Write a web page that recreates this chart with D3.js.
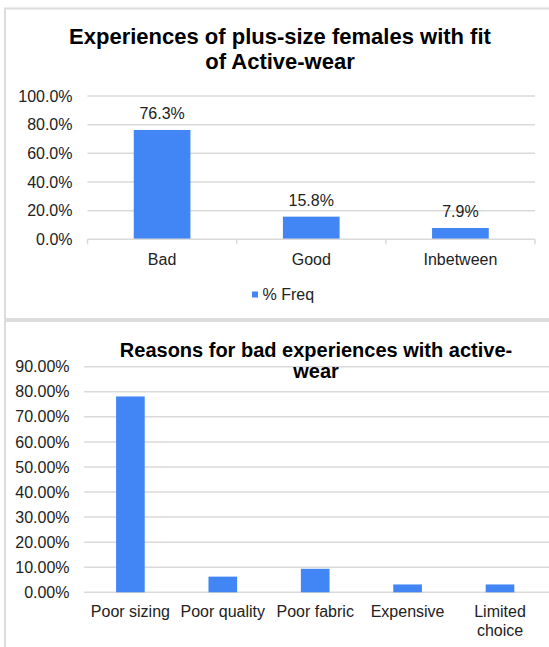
<!DOCTYPE html>
<html>
<head>
<meta charset="utf-8">
<script src="https://cdn.jsdelivr.net/npm/d3@7"></script>
<style>
  html, body { margin: 0; padding: 0; background: #fff; }
  svg { display: block; font-family: "Liberation Sans", Arial, Helvetica, sans-serif; }
</style>
</head>
<body>
<svg id="chart" width="549" height="647"></svg>
<script>
// Chart 1: fit experiences
const fitCategories = ["Bad", "Good", "Inbetween"];
const fitValues = [76.3, 15.8, 7.9];
const fitTicks = [0, 20, 40, 60, 80, 100];
const fitTitle = ["Experiences of plus-size females with fit", "of Active-wear"];
const fitLegend = "% Freq";

// Chart 2: reasons for bad experiences
const reasonCategories = ["Poor sizing", "Poor quality", "Poor fabric", "Expensive", "Limited choice"];
const reasonValues = [78.13, 6.25, 9.38, 3.13, 3.13];
const reasonTicks = [0, 10, 20, 30, 40, 50, 60, 70, 80, 90];
const reasonTitle = ["Reasons for bad experiences with active-", "wear"];

const BLUE = "#4285f4";
const GRID = "#dadada";
const TEXT = "#222";

const svg = d3.select("#chart");

// panel frames
const frame = svg.append("g").attr("fill", "none").attr("stroke", "#dcdcdc");
frame.append("path").attr("stroke-width", 2).attr("d", "M5,320V8.5H549");
frame.append("path").attr("stroke-width", 2).attr("d", "M5,647V321H549");
frame.append("line").attr("stroke-width", 2).attr("x1", 5).attr("x2", 549).attr("y1", 319).attr("y2", 319);

function wrap(sel, width) {
  sel.each(function () {
    const text = d3.select(this);
    const words = text.text().split(/\s+/);
    const y = text.attr("y"), dy = parseFloat(text.attr("dy")) || 0;
    text.text(null);
    let line = [];
    let lineNo = 0;
    let tspan = text.append("tspan").attr("x", 0).attr("y", y).attr("dy", dy + "em");
    for (const w of words) {
      line.push(w);
      tspan.text(line.join(" "));
      if (tspan.node().getComputedTextLength() > width && line.length > 1) {
        line.pop();
        tspan.text(line.join(" "));
        line = [w];
        lineNo++;
        tspan = text.append("tspan").attr("x", 0).attr("y", y)
          .attr("dy", (dy + lineNo * 1.19) + "em").text(w);
      }
    }
  });
}

// ---------- Chart 1 ----------
{
  const g = svg.append("g");
  const x = d3.scaleBand().domain(fitCategories).range([87.5, 535]);
  const y = d3.scaleLinear().domain([0, 100]).range([239.3, 96]);
  const barW = x.bandwidth() * 0.38;

  g.append("text")
    .attr("x", 280).attr("y", 44)
    .attr("text-anchor", "middle")
    .attr("font-size", 22).attr("font-weight", "bold").attr("fill", "#000")
    .selectAll("tspan").data(fitTitle).join("tspan")
    .attr("x", 280).attr("dy", (d, i) => i ? 25 : 0)
    .text(d => d);

  // gridlines
  g.append("g").selectAll("line").data(fitTicks.filter(t => t > 0)).join("line")
    .attr("x1", 87.5).attr("x2", 535)
    .attr("y1", d => y(d)).attr("y2", d => y(d))
    .attr("stroke", GRID).attr("stroke-width", 1.5);

  // y axis labels
  const ya = g.append("g").attr("transform", "translate(72.5,0)")
    .call(d3.axisLeft(y).tickValues(fitTicks).tickSize(0).tickPadding(0)
      .tickFormat(d => d.toFixed(1) + "%"));
  ya.select(".domain").remove();
  ya.selectAll("text").attr("font-size", 16).attr("fill", TEXT)
    .attr("font-family", "Liberation Sans, Arial, sans-serif");

  // bars
  g.append("g").selectAll("rect").data(fitValues).join("rect")
    .attr("x", (d, i) => x(fitCategories[i]) + (x.bandwidth() - barW) / 2)
    .attr("width", barW)
    .attr("y", d => y(d))
    .attr("height", d => y(0) - y(d))
    .attr("fill", BLUE);

  // value labels
  g.append("g").selectAll("text").data(fitValues).join("text")
    .attr("x", (d, i) => x(fitCategories[i]) + x.bandwidth() / 2)
    .attr("y", d => y(d) - 11)
    .attr("text-anchor", "middle").attr("font-size", 16).attr("fill", TEXT)
    .text(d => d.toFixed(1) + "%");

  // x axis line + boundary ticks
  const bounds = fitCategories.map(c => x(c)).concat([x.range()[1]]);
  g.append("line").attr("x1", 87.5).attr("x2", 535)
    .attr("y1", y(0)).attr("y2", y(0)).attr("stroke", GRID).attr("stroke-width", 1.5);
  g.append("g").selectAll("line").data(bounds).join("line")
    .attr("x1", d => d).attr("x2", d => d)
    .attr("y1", y(0)).attr("y2", y(0) + 5)
    .attr("stroke", GRID).attr("stroke-width", 1.5);

  const xa = g.append("g").attr("transform", `translate(0,${y(0)})`)
    .call(d3.axisBottom(x).tickSize(0).tickPadding(14.3));
  xa.select(".domain").remove();
  xa.selectAll("text").attr("font-size", 16).attr("fill", TEXT)
    .attr("font-family", "Liberation Sans, Arial, sans-serif");

  // legend
  const lg = g.append("g");
  lg.append("rect").attr("x", 252).attr("y", 291.5).attr("width", 6).attr("height", 6).attr("fill", BLUE);
  lg.append("text").attr("x", 262.5).attr("y", 299.5).attr("font-size", 16).attr("fill", TEXT).text(fitLegend);
}

// ---------- Chart 2 ----------
{
  const g = svg.append("g");
  const x = d3.scaleBand().domain(reasonCategories).range([84.2, 546.2]);
  const y = d3.scaleLinear().domain([0, 90]).range([592.3, 366.7]);
  const barW = x.bandwidth() * 0.31;

  // gridlines
  g.append("g").selectAll("line").data(reasonTicks).join("line")
    .attr("x1", 84.2).attr("x2", 549)
    .attr("y1", d => y(d)).attr("y2", d => y(d))
    .attr("stroke", GRID).attr("stroke-width", 1.5);

  g.append("text")
    .attr("x", 316).attr("y", 356.5)
    .attr("text-anchor", "middle")
    .attr("font-size", 20).attr("font-weight", "bold").attr("fill", "#000")
    .selectAll("tspan").data(reasonTitle).join("tspan")
    .attr("x", 316).attr("dy", (d, i) => i ? 21.5 : 0)
    .text(d => d);

  const ya = g.append("g").attr("transform", "translate(69.5,0)")
    .call(d3.axisLeft(y).tickValues(reasonTicks).tickSize(0).tickPadding(0)
      .tickFormat(d => d.toFixed(2) + "%"));
  ya.select(".domain").remove();
  ya.selectAll("text").attr("font-size", 16).attr("fill", TEXT)
    .attr("font-family", "Liberation Sans, Arial, sans-serif");

  g.append("g").selectAll("rect").data(reasonValues).join("rect")
    .attr("x", (d, i) => x(reasonCategories[i]) + (x.bandwidth() - barW) / 2)
    .attr("width", barW)
    .attr("y", d => y(d))
    .attr("height", d => y(0) - y(d))
    .attr("fill", BLUE);

  const xa = g.append("g").attr("transform", `translate(0,${y(0)})`)
    .call(d3.axisBottom(x).tickSize(0).tickPadding(13.8));
  xa.select(".domain").remove();
  xa.selectAll("text").attr("font-size", 16).attr("fill", TEXT)
    .attr("font-family", "Liberation Sans, Arial, sans-serif")
    .call(wrap, x.bandwidth());
}
</script>
</body>
</html>
